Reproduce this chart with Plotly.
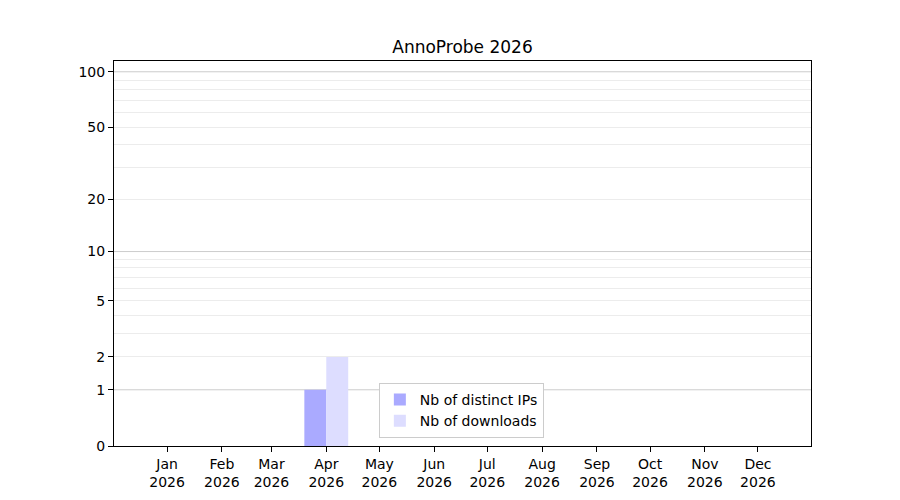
import numpy as np
import plotly.graph_objects as go

# monthly stats for 2026
months = ["2026-%02d-01" % m for m in range(1, 13)]
month_labels = ["Jan", "Feb", "Mar", "Apr", "May", "Jun",
                "Jul", "Aug", "Sep", "Oct", "Nov", "Dec"]
distinct_ips = [0, 0, 0, 1, 0, 0, 0, 0, 0, 0, 0, 0]
downloads = [0, 0, 0, 2, 0, 0, 0, 0, 0, 0, 0, 0]

y_ticks = [0, 1, 2, 5, 10, 20, 50, 100]
major_grid = [1, 10, 100]
minor_grid = [2, 3, 4, 5, 6, 7, 8, 9, 20, 30, 40, 50, 60, 70, 80, 90]


def scale(v):
    # log(1 + x) scale, like the original
    return np.log10(1 + np.asarray(v, dtype=float))


DAY_MS = 86400000
bar_w = 12.4 * DAY_MS
FONT = "DejaVu Sans"

fig = go.Figure()
fig.add_trace(go.Bar(
    x=months, y=scale(distinct_ips), name="Nb of distinct IPs",
    marker=dict(color="#aaaaff", line=dict(width=0)),
    width=bar_w, offset=-bar_w,
))
fig.add_trace(go.Bar(
    x=months, y=scale(downloads), name="Nb of downloads",
    marker=dict(color="#ddddff", line=dict(width=0)),
    width=bar_w, offset=0,
))

for v in major_grid:
    fig.add_shape(type="line", xref="paper", x0=0, x1=1, yref="y",
                  y0=float(scale(v)), y1=float(scale(v)),
                  line=dict(color="#cccccc", width=1), layer="below")

fig.update_layout(
    width=900, height=500,
    margin=dict(l=106, r=97, t=53, b=62),
    plot_bgcolor="white", paper_bgcolor="white",
    barmode="overlay",
    font=dict(family=FONT, size=14, color="black"),
    title=dict(text="AnnoProbe 2026", x=(106 + 803) / 2 / 900, xanchor="center",
               y=1 - 39 / 500, yanchor="middle", font=dict(size=17)),
    legend=dict(x=0.38, y=0.021, xanchor="left", yanchor="bottom",
                bordercolor="#cccccc", borderwidth=1, bgcolor="white",
                font=dict(size=14), tracegroupgap=4),
    xaxis=dict(
        type="date", range=["2025-12-02", "2026-12-31"],
        tickvals=months,
        ticktext=[m + "<br>2026" for m in month_labels],
        ticks="outside", ticklen=5, tickcolor="black",
        showgrid=False, zeroline=False,
        showline=True, linecolor="black", mirror=True, linewidth=1,
    ),
    yaxis=dict(
        range=[0, 2.062],
        tickvals=scale(y_ticks), ticktext=[str(t) for t in y_ticks],
        ticks="outside", ticklen=5, tickcolor="black",
        showgrid=False, zeroline=False,
        showline=True, linecolor="black", mirror=True, linewidth=1,
        minor=dict(tickmode="array", tickvals=scale(minor_grid),
                   showgrid=True, gridcolor="#ececec", gridwidth=1, ticks=""),
    ),
)

fig.write_html("out.html")
